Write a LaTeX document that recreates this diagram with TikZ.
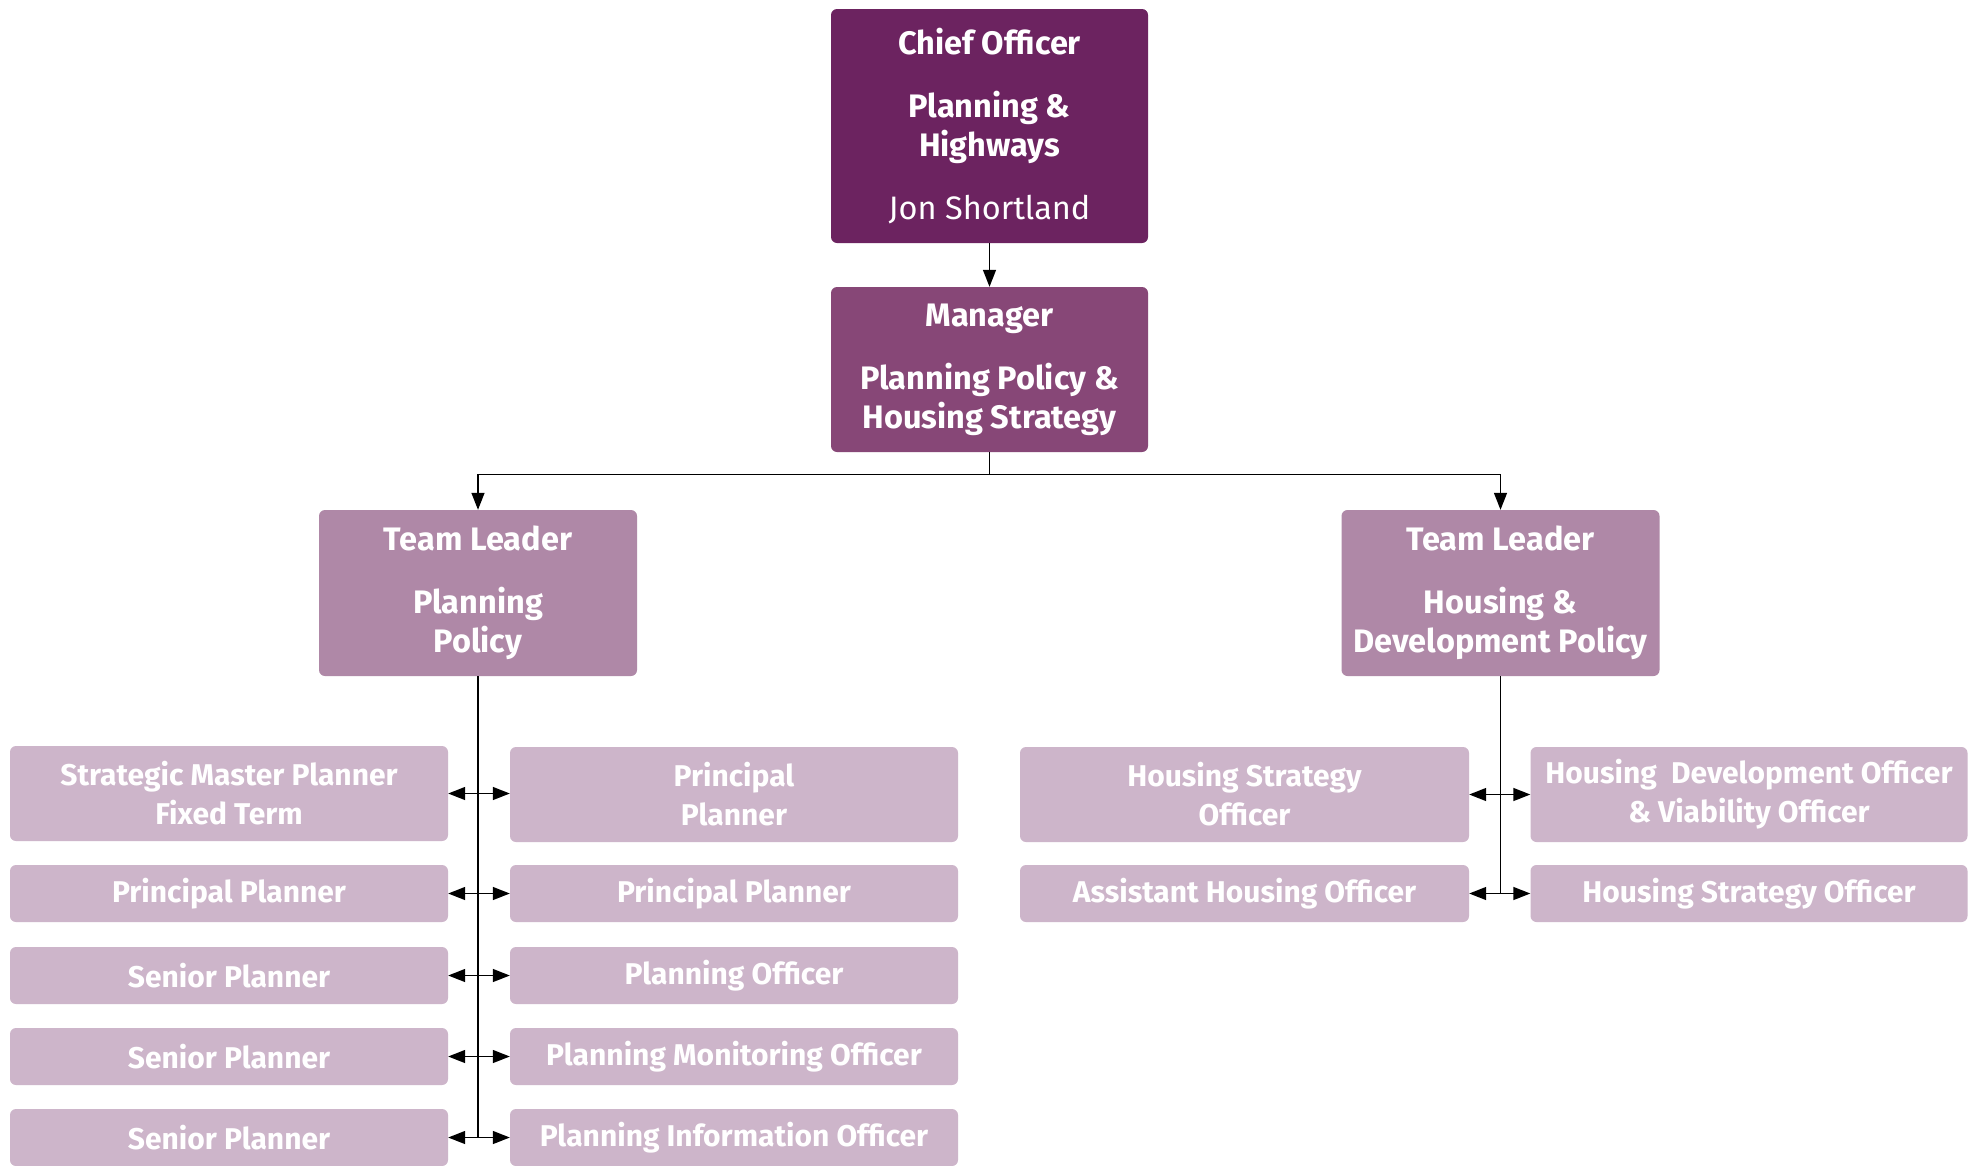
\documentclass[tikz,border=0pt]{standalone}
\usepackage{fontspec}
\setmainfont{Fira Sans}
\usetikzlibrary{arrows.meta}
\definecolor{chiefc}{RGB}{108,35,96}
\definecolor{mgrc}{RGB}{135,71,119}
\definecolor{leadc}{RGB}{175,136,167}
\definecolor{staffc}{RGB}{205,181,202}
\begin{document}
\begin{tikzpicture}[x=1pt,y=-1pt,
  box/.style={rounded corners=6pt, text=white, align=center, inner sep=0pt,
    font=\fontsize{30}{39}\selectfont\bfseries},
  bigtext/.style={font=\fontsize{32.5}{39}\selectfont\bfseries},
  chiefbox/.style={box, bigtext, fill=chiefc, minimum width=317pt, minimum height=234pt},
  mgrbox/.style={box, bigtext, fill=mgrc, minimum width=317pt, minimum height=165pt},
  leadbox/.style={box, bigtext, fill=leadc, minimum width=318pt, minimum height=166pt},
  staffbox/.style={box, fill=staffc, minimum height=57pt},
  tallstaff/.style={staffbox, minimum height=95pt},
  link/.style={line width=1.4pt, draw=black},
  arr/.style={link, -{Triangle[length=17pt,width=13pt]}},
  dbl/.style={link, {Triangle[length=17pt,width=13pt]}-{Triangle[length=17pt,width=13pt]}}
]
\clip (0,0) rectangle (1975,1165);
\fill[white] (0,0) rectangle (1975,1165);

% management chain
\node[chiefbox] (chief) at (989.5,126) {Chief Officer\\[24pt]Planning \&\\Highways\\[24pt]{\mdseries Jon Shortland}};
\node[mgrbox] (mgr) at (989.5,369.5) {Manager\\[24pt]Planning Policy \&\\Housing Strategy};
\node[leadbox] (tlL) at (478,593) {Team Leader\\[24pt]Planning\\Policy};
\node[leadbox] (tlR) at (1500.5,593) {Team Leader\\[24pt]Housing \&\\Development Policy};

\draw[arr] (chief.south) -- (mgr.north);
\draw[arr] (mgr.south) -- ++(0,22.5) -| (tlL.north);
\draw[arr] (mgr.south) -- ++(0,22.5) -| (tlR.north);

% planning policy team
\node[tallstaff, minimum width=438pt] (pa1) at (229,793.5) {Strategic Master Planner\\Fixed Term};
\node[staffbox, minimum width=438pt] (pa2) at (229,893.5) {Principal Planner};
\node[staffbox, minimum width=438pt] (pa3) at (229,975.5) {Senior Planner};
\node[staffbox, minimum width=438pt] (pa4) at (229,1056.5) {Senior Planner};
\node[staffbox, minimum width=438pt] (pa5) at (229,1137.5) {Senior Planner};
\node[tallstaff, minimum width=448pt] (pb1) at (734,794.5) {Principal\\Planner};
\node[staffbox, minimum width=448pt] (pb2) at (734,893.5) {Principal Planner};
\node[staffbox, minimum width=448pt] (pb3) at (734,975.5) {Planning Officer};
\node[staffbox, minimum width=448pt] (pb4) at (734,1056.5) {Planning Monitoring Officer};
\node[staffbox, minimum width=448pt] (pb5) at (734,1137.5) {Planning Information Officer};

\coordinate (pend) at (478,1137.5);
\draw[link] (tlL.south) -- (pend);
\foreach \i in {1,...,5} {\draw[dbl] (pa\i.east) -- (pb\i.west |- pa\i.east);}

% housing & development team
\node[tallstaff, minimum width=449pt] (ha1) at (1244.5,794.5) {Housing Strategy\\Officer};
\node[staffbox, minimum width=449pt] (ha2) at (1244.5,893.5) {Assistant Housing Officer};
\node[tallstaff, minimum width=437pt] (hb1) at (1749,794.5) {Housing\ \ Development Officer\\\& Viability Officer};
\node[staffbox, minimum width=437pt] (hb2) at (1749,893.5) {Housing Strategy Officer};

\coordinate (hend) at (1500.5,893.5);
\draw[link] (tlR.south) -- (hend);
\foreach \i in {1,2} {\draw[dbl] (ha\i.east) -- (hb\i.west);}
\end{tikzpicture}
\end{document}
